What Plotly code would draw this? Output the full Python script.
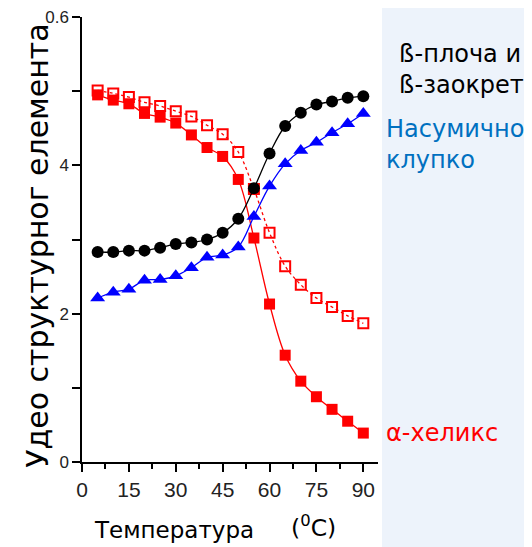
import plotly.graph_objects as go

# temperature points (degrees C)
temp = [5, 10, 15, 20, 25, 30, 35, 40, 45, 50, 55, 60, 65, 70, 75, 80, 85, 90]

# beta sheet + beta turn (black circles)
beta = [0.283, 0.283, 0.285, 0.285, 0.289, 0.294, 0.296, 0.300, 0.309,
        0.328, 0.369, 0.416, 0.453, 0.471, 0.482, 0.486, 0.491, 0.493]
# random coil (blue triangles)
coil = [0.221, 0.229, 0.233, 0.245, 0.246, 0.251, 0.262, 0.276, 0.279,
        0.290, 0.331, 0.372, 0.402, 0.420, 0.431, 0.444, 0.456, 0.470]
# alpha helix (filled red squares)
helix = [0.495, 0.488, 0.483, 0.470, 0.465, 0.457, 0.441, 0.424, 0.412,
         0.381, 0.302, 0.213, 0.144, 0.109, 0.088, 0.071, 0.055, 0.039]
# alpha helix, second set (open red squares, dotted)
helix_open = [0.501, 0.497, 0.492, 0.485, 0.480, 0.473, 0.466, 0.454, 0.442,
              0.418, 0.368, 0.309, 0.264, 0.239, 0.221, 0.209, 0.197, 0.187]

x_ticks = [0, 15, 30, 45, 60, 75, 90]
y_ticks = [0, 0.2, 0.4, 0.6]
y_ticktext = ["0", "2", "4", "0.6"]

font_txt = "DejaVu Sans"
font_num = "Liberation Sans"

fig = go.Figure()

fig.add_trace(go.Scatter(
    x=temp, y=helix_open, mode="lines+markers", line_shape="spline",
    line=dict(color="red", width=1.3, dash="dot"),
    marker=dict(symbol="square-open", size=10, color="red", line=dict(width=2)),
))
fig.add_trace(go.Scatter(
    x=temp, y=helix, mode="lines+markers", line_shape="spline",
    line=dict(color="red", width=1.3),
    marker=dict(symbol="square", size=11, color="red"),
))
fig.add_trace(go.Scatter(
    x=temp, y=beta, mode="lines+markers", line_shape="spline",
    line=dict(color="black", width=1.3),
    marker=dict(symbol="circle", size=12, color="black"),
))
fig.add_trace(go.Scatter(
    x=temp, y=coil, mode="lines+markers", line_shape="spline",
    line=dict(color="blue", width=1.3),
    marker=dict(symbol="triangle-up", size=13, color="blue"),
))

# light blue slide background on the right
fig.add_shape(type="rect", xref="paper", yref="paper", x0=1.0135, x1=1.6, y0=-0.3, y1=1.1,
              fillcolor="#edf3fb", line_width=0, layer="below")

# series labels
fig.add_annotation(x=1.065, y=0.953, xref="paper", yref="paper", xanchor="left",
                   text="ß-плоча и<br>ß-заокрет", showarrow=False, align="left",
                   font=dict(family=font_txt, size=24, color="black"))
fig.add_annotation(x=1.02, y=0.785, xref="paper", yref="paper", xanchor="left",
                   text="Насумично<br>клупко", showarrow=False, align="left",
                   font=dict(family=font_txt, size=24, color="#0070c0"))
fig.add_annotation(x=1.02, y=0.03, xref="paper", yref="paper", xanchor="left",
                   text="α-хеликс", showarrow=False,
                   font=dict(family=font_txt, size=24, color="red"))

# axis titles
fig.add_annotation(x=-0.15, y=0.485, xref="paper", yref="paper", textangle=-90,
                   xanchor="center", yanchor="middle",
                   text="Удео структурног елемента", showarrow=False,
                   font=dict(family=font_txt, size=30, color="black"))
fig.add_annotation(x=0.033, y=-0.153, xref="paper", yref="paper", xanchor="left",
                   yanchor="middle", text="Температура", showarrow=False,
                   font=dict(family=font_txt, size=23, color="black"))
fig.add_annotation(x=0.70, y=-0.145, xref="paper", yref="paper", xanchor="left",
                   yanchor="middle", text="(<sup>0</sup>C)", showarrow=False,
                   font=dict(family=font_txt, size=23.5, color="black"))

# page body adds an 8px offset, so margins are shifted to compensate
fig.update_layout(
    width=532, height=547,
    margin=dict(l=74, r=162, t=9, b=93),
    paper_bgcolor="white", plot_bgcolor="white",
    showlegend=False,
    xaxis=dict(
        range=[0, 94.7], tickvals=x_ticks, showline=True, linecolor="black", linewidth=1.5,
        ticks="outside", ticklen=8, tickwidth=1.5, tickcolor="black", showgrid=False, zeroline=False,
        minor=dict(dtick=7.5, tick0=0, ticks="outside", ticklen=5, tickcolor="black", tickwidth=1.5),
        tickfont=dict(family=font_num, size=21, color="#222"), automargin=False,
    ),
    yaxis=dict(
        range=[0, 0.6], tickvals=y_ticks, ticktext=y_ticktext, showline=True, linecolor="black",
        linewidth=1.5, ticks="outside", ticklen=8, tickwidth=1.5, tickcolor="black",
        showgrid=False, zeroline=False, ticklabeloverflow="allow",
        minor=dict(dtick=0.1, tick0=0, ticks="outside", ticklen=8, tickcolor="black", tickwidth=1.5),
        tickfont=dict(family=font_num, size=17, color="#222"), automargin=False,
    ),
)

fig.write_html("out.html")
